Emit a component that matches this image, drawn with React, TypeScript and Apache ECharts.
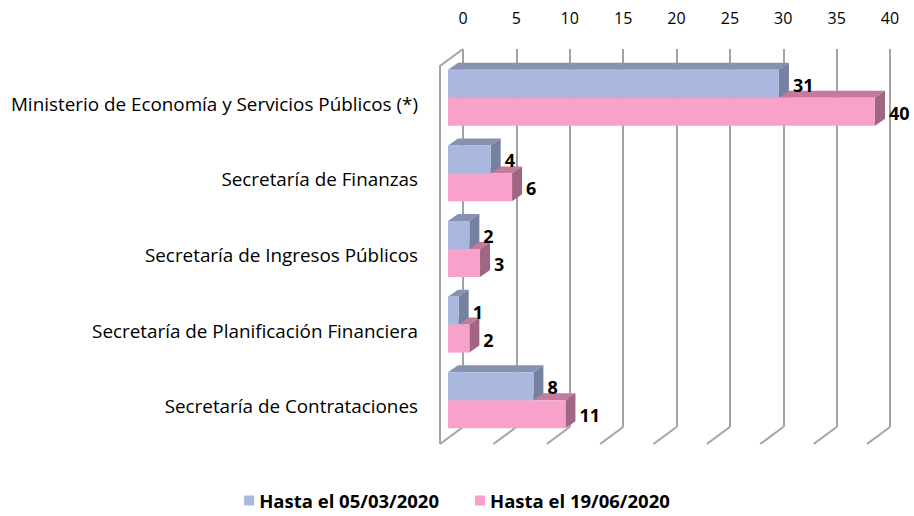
import React, { useEffect, useRef } from "react";
import * as echarts from "echarts";

const categories = [
  "Ministerio de Economía y Servicios Públicos (*)",
  "Secretaría de Finanzas",
  "Secretaría de Ingresos Públicos",
  "Secretaría de Planificación Financiera",
  "Secretaría de Contrataciones",
];
const seriesNames = ["Hasta el 05/03/2020", "Hasta el 19/06/2020"];
const values1 = [31, 4, 2, 1, 8];
const values2 = [40, 6, 3, 2, 11];
const ticks = [0, 5, 10, 15, 20, 25, 30, 35, 40];

const FONT = "Open Sans";
const palettes = [
  { front: "#aab8df", top: "#8791b0", side: "#76819f" },
  { front: "#f7a1cb", top: "#c27b9d", side: "#a06583" },
];

const BAR_OX = -15;
const BAR_OY = 11;
const DEPTH_X = 10;
const DEPTH_Y = -7;
const FLOOR_DX = -23;
const FLOOR_DY = 17;

function barRenderer(s: number) {
  return (params: any, api: any) => {
    const val = api.value(0);
    const cat = api.value(1);
    const base = api.coord([0, cat]);
    const end = api.coord([val, cat]);
    const band = api.size([0, 1])[1];
    const h = band * 0.37;
    const x0 = base[0] + BAR_OX;
    const x1 = end[0] + BAR_OX;
    const cy = base[1] + BAR_OY;
    const y0 = s === 0 ? cy - h : cy;
    const y1 = y0 + h;
    const p = palettes[s];
    return {
      type: "group",
      children: [
        {
          type: "polygon",
          shape: { points: [[x0, y0], [x0 + DEPTH_X, y0 + DEPTH_Y], [x1 + DEPTH_X, y0 + DEPTH_Y], [x1, y0]] },
          style: { fill: p.top },
        },
        {
          type: "polygon",
          shape: { points: [[x1, y0], [x1 + DEPTH_X, y0 + DEPTH_Y], [x1 + DEPTH_X, y1 + DEPTH_Y], [x1, y1]] },
          style: { fill: p.side },
        },
        {
          type: "rect",
          shape: { x: x0, y: y0, width: x1 - x0, height: h },
          style: { fill: p.front },
        },
        {
          type: "text",
          x: x1 + 14,
          y: y0 + h / 2 + 1,
          style: {
            text: String(val),
            fill: "#000",
            font: `bold 18px "${FONT}"`,
            verticalAlign: "middle",
            align: "left",
          },
        },
      ],
    };
  };
}

function wallRenderer(params: any, api: any) {
  const t = api.value(0);
  const cs = params.coordSys;
  const px = api.coord([t, 0])[0];
  const top = cs.y;
  const bottom = cs.y + cs.height;
  const style = { stroke: "#a3a3a3", lineWidth: 2, fill: "none" };
  const children: any[] = [
    { type: "line", shape: { x1: px, y1: bottom, x2: px + FLOOR_DX, y2: bottom + FLOOR_DY }, style },
  ];
  if (t === 0) {
    children.push({
      type: "polyline",
      shape: { points: [[px, top], [px + FLOOR_DX, top + FLOOR_DY], [px + FLOOR_DX, bottom + FLOOR_DY]] },
      style,
    });
  }
  return { type: "group", children };
}

export default function App() {
  const ref = useRef<HTMLDivElement>(null);
  useEffect(() => {
    if (!ref.current) return;
    const chart = echarts.init(ref.current, null, { renderer: "svg" });
    chart.setOption({
      animation: false,
      backgroundColor: "#ffffff",
      textStyle: { fontFamily: FONT },
      grid: [
        { left: 463, top: 49, width: 427, height: 378 },
        { left: 440, top: 66, width: 427, height: 378 },
      ],
      legend: {
        data: seriesNames,
        top: 486,
        left: "center",
        icon: "rect",
        itemWidth: 10,
        itemHeight: 10,
        itemGap: 36,
        textStyle: { fontFamily: FONT, fontWeight: "bold", fontSize: 18.5, color: "#000" },
      },
      xAxis: [
        {
          type: "value",
          gridIndex: 0,
          position: "top",
          min: 0,
          max: 40,
          interval: 5,
          axisLine: { show: false },
          axisTick: { show: false },
          axisLabel: { margin: 23, fontSize: 16, color: "#000", fontFamily: FONT },
          splitLine: { show: true, lineStyle: { color: "#a3a3a3", width: 2 } },
        },
        {
          type: "value",
          gridIndex: 1,
          min: 0,
          max: 40,
          show: false,
        },
      ],
      yAxis: [
        {
          type: "category",
          gridIndex: 0,
          data: categories,
          inverse: true,
          axisLine: { show: false },
          axisTick: { show: false },
          axisLabel: { show: false },
          splitLine: { show: false },
        },
        {
          type: "category",
          gridIndex: 1,
          data: categories,
          inverse: true,
          axisLine: { show: false },
          axisTick: { show: false },
          axisLabel: { margin: 22, fontSize: 18.85, color: "#000", fontFamily: FONT },
          splitLine: { show: false },
        },
      ],
      series: [
        {
          type: "custom",
          name: "walls",
          xAxisIndex: 0,
          yAxisIndex: 0,
          z: 1,
          silent: true,
          renderItem: wallRenderer,
          data: ticks.map((t) => [t, 0]),
          encode: { x: 0, y: 1 },
        },
        {
          type: "custom",
          name: seriesNames[1],
          xAxisIndex: 0,
          yAxisIndex: 0,
          z: 3,
          color: palettes[1].front,
          itemStyle: { color: palettes[1].front },
          renderItem: barRenderer(1),
          data: values2.map((v, i) => [v, i]),
          encode: { x: 0, y: 1 },
        },
        {
          type: "custom",
          name: seriesNames[0],
          xAxisIndex: 0,
          yAxisIndex: 0,
          z: 4,
          color: palettes[0].front,
          itemStyle: { color: palettes[0].front },
          renderItem: barRenderer(0),
          data: values1.map((v, i) => [v, i]),
          encode: { x: 0, y: 1 },
        },
      ],
    });
    return () => chart.dispose();
  }, []);
  return <div ref={ref} style={{ position: "fixed", left: 0, top: 0, width: 914, height: 516 }} />;
}
